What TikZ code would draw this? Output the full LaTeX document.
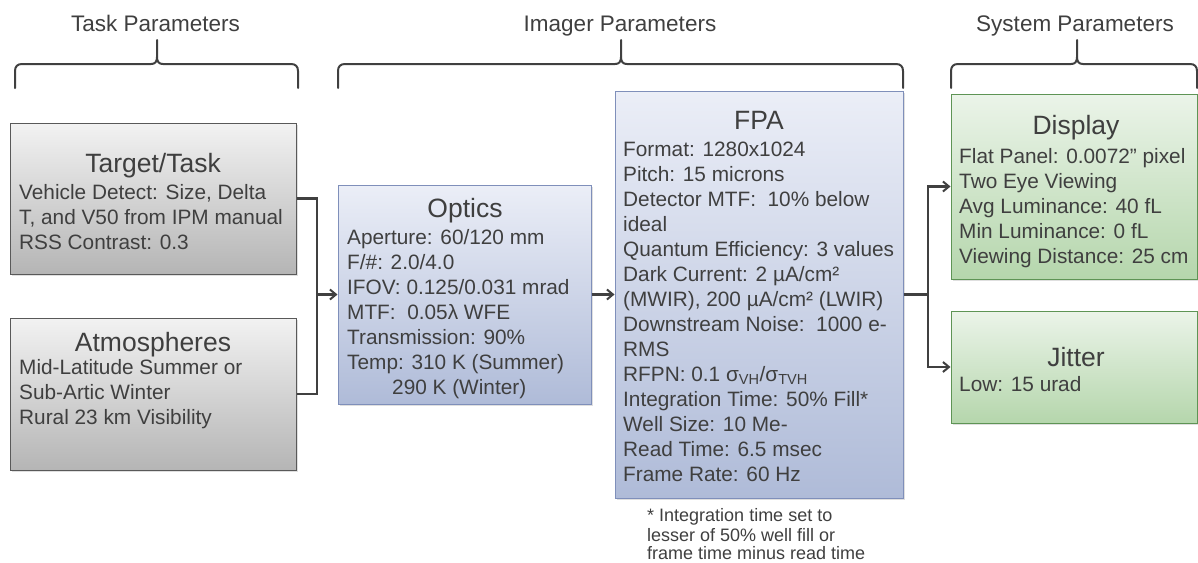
\documentclass[tikz,border=0pt]{standalone}
\usepackage{fontspec}
\setmainfont{Liberation Sans}
\usetikzlibrary{arrows.meta,shadows}
\definecolor{txt}{HTML}{3F3F3F}
\definecolor{lin}{HTML}{404040}
\definecolor{graytop}{HTML}{F2F2F2}
\definecolor{graybot}{HTML}{B5B5B5}
\definecolor{grayedge}{HTML}{595959}
\definecolor{bluetop}{HTML}{EBEEF7}
\definecolor{bluebot}{HTML}{AFBBD8}
\definecolor{blueedge}{HTML}{7F8FBA}
\definecolor{greentop}{HTML}{EBF4E9}
\definecolor{greenbot}{HTML}{B5D6AC}
\definecolor{greenedge}{HTML}{5E9455}
\newcommand{\drawbrace}[3]{%
  \draw[bracestyle] (#1,88) -- (#1,71) .. controls (#1,66.5) and (#1+2.5,64) .. (#1+7,64)
    -- (#2-6,64) .. controls (#2-2,64) and (#2,62) .. (#2,57) -- (#2,40);
  \draw[bracestyle] (#2,57) .. controls (#2,62) and (#2+2,64) .. (#2+6,64)
    -- (#3-7,64) .. controls (#3-2.5,64) and (#3,66.5) .. (#3,71) -- (#3,88);}
\begin{document}
\begin{tikzpicture}[x=1pt,y=-1pt,
  box/.style={rectangle, inner sep=0pt, line width=1pt,
    drop shadow={shadow xshift=1.5pt, shadow yshift=-2pt, opacity=0.25}},
  graybox/.style={box, draw=grayedge, top color=graytop, bottom color=graybot},
  bluebox/.style={box, draw=blueedge, top color=bluetop, bottom color=bluebot},
  greenbox/.style={box, draw=greenedge, top color=greentop, bottom color=greenbot},
  title/.style={inner sep=0pt, text=txt, font=\fontsize{26.5}{30}\selectfont, anchor=base},
  body/.style={inner sep=0pt, text=txt, align=left, anchor=north west, font=\fontsize{20.8}{25}\selectfont},
  note/.style={inner sep=0pt, text=txt, align=left, anchor=north west, font=\fontsize{18}{18.5}\selectfont},
  head/.style={inner sep=0pt, text=txt, anchor=base, font=\fontsize{22.5}{26}\selectfont},
  bracestyle/.style={draw=lin, line width=2pt, line cap=round},
  conn/.style={draw=lin, line width=2.2pt},
  arr/.style={conn, -{Straight Barb[length=6pt,width=10pt,line width=2pt]}}
]
\useasboundingbox (0,0) rectangle (1198,562);

% headers and braces
\node[head] (taskH) at (155.5,31) {Task Parameters};
\node[head] (imgH) at (620,31) {Imager Parameters};
\node[head] (sysH) at (1075,31) {System Parameters};
\drawbrace{15}{157}{298}
\drawbrace{338}{621}{903}
\drawbrace{951}{1077}{1197}

% boxes
\node[graybox, minimum width=286pt, minimum height=151pt] (target) at (153,198.5) {};
\node[graybox, minimum width=286pt, minimum height=152pt] (atmos) at (153,394) {};
\node[bluebox, minimum width=253pt, minimum height=219pt] (optics) at (464.5,294.5) {};
\node[bluebox, minimum width=288pt, minimum height=407pt] (fpa) at (759,294.5) {};
\node[greenbox, minimum width=246pt, minimum height=185pt] (display) at (1074,186.5) {};
\node[greenbox, minimum width=246pt, minimum height=112pt] (jitter) at (1074,367) {};

% texts
\node[title] (targetT) at (153,172.5) {Target/Task};
\node[body] (targetB) at (19,181.5) {\strut Vehicle Detect: Size, Delta\\T, and V50 from IPM manual\\RSS Contrast: 0.3};

\node[title] (atmosT) at (153,351.5) {Atmospheres};
\node[body] (atmosB) at (19,356.5) {\strut Mid-Latitude Summer or\\Sub-Artic Winter\\Rural 23 km Visibility};

\node[title] (opticsT) at (465,217.5) {Optics};
\node[body] (opticsB) at (347,226.5) {\strut Aperture: 60/120 mm\\F/\#: 2.0/4.0\\IFOV: 0.125/0.031 mrad\\MTF:\ \ 0.05λ WFE\\Transmission: 90\%\\Temp: 310 K (Summer)\\\hspace*{45pt}290 K (Winter)};

\node[title] (fpaT) at (759,129.5) {FPA};
\node[body] (fpaB) at (623,138.5) {\strut Format: 1280x1024\\Pitch: 15 microns\\Detector MTF:\ \ 10\% below\\ideal\\Quantum Efficiency: 3 values\\Dark Current: 2 µA/cm²\\(MWIR), 200 µA/cm² (LWIR)\\Downstream Noise:\ \ 1000 e-\\RMS\\RFPN: 0.1 σ\textsubscript{VH}/σ\textsubscript{TVH}\\Integration Time: 50\% Fill*\\Well Size: 10 Me-\\Read Time: 6.5 msec\\Frame Rate: 60 Hz};

\node[title] (displayT) at (1076,134.5) {Display};
\node[body] (displayB) at (959,145.5) {\strut Flat Panel: 0.0072” pixel\\Two Eye Viewing\\Avg Luminance: 40 fL\\Min Luminance: 0 fL\\Viewing Distance: 25 cm};

\node[title] (jitterT) at (1076,366.5) {Jitter};
\node[body] (jitterB) at (959,373.5) {\strut Low: 15 urad};

\node[note] (fn) at (647,508.5) {\strut * Integration time set to\\lesser of 50\% well fill or\\frame time minus read time};

% connectors
\coordinate (j1) at (317,294.5);
\coordinate (j2) at (928,294.5);
\draw[conn] (target.east) -| (j1) |- (atmos.east);
\draw[arr] (j1) -- (optics.west);
\draw[arr] (optics.east) -- (fpa.west);
\draw[conn] (fpa.east) -- (j2);
\draw[arr] (j2) |- (display.west);
\draw[arr] (j2) |- (jitter.west);
\end{tikzpicture}
\end{document}
